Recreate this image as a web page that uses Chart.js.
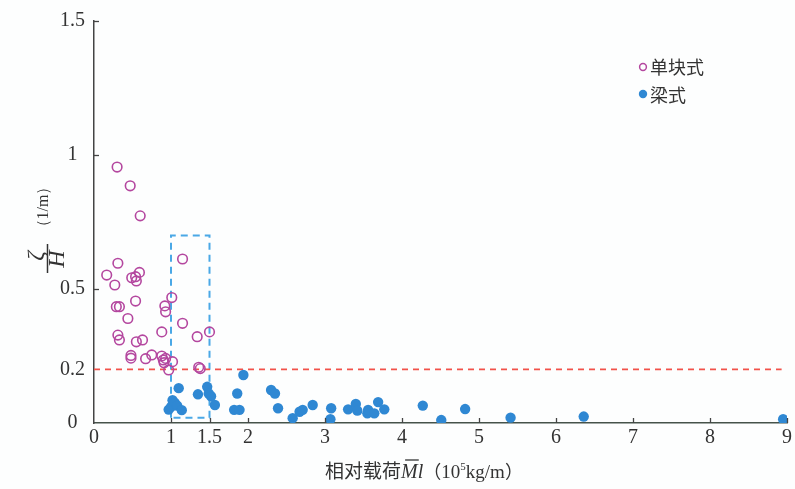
<!DOCTYPE html>
<html><head><meta charset="utf-8">
<script src="https://cdn.jsdelivr.net/npm/chart.js@4.4.1/dist/chart.umd.min.js"></script>
<style>html,body{margin:0;padding:0;background:#fdfefe;}#wrap{width:795px;height:489px;position:relative}</style>
</head><body><div id="wrap"><canvas id="c" width="795" height="489"></canvas></div>
<script>
// ---- data ----
const xTicks = [0, 1, 1.5, 2, 3, 4, 5, 6, 7, 8, 9];
const yTicks = [0, 0.2, 0.5, 1, 1.5];
const seriesNames = ['单块式', '梁式'];

const singleBlockX = [0.30, 0.47, 0.60, 1.15, 0.31, 0.165, 0.27, 0.49, 0.54, 0.55, 0.59,
  1.01, 0.29, 0.33, 0.54, 0.92, 0.93, 0.44, 1.15, 0.88, 1.50, 1.34, 0.31, 0.33, 0.55, 0.63,
  0.48, 0.48, 0.67, 0.75, 0.88, 0.90, 0.93, 0.91, 1.02, 0.97, 1.36, 1.38];
const singleBlockY = [0.955, 0.885, 0.773, 0.612, 0.596, 0.552, 0.515, 0.542, 0.546, 0.530, 0.562,
  0.468, 0.434, 0.434, 0.455, 0.437, 0.415, 0.390, 0.372, 0.340, 0.340, 0.322, 0.328, 0.310, 0.303, 0.310,
  0.252, 0.242, 0.240, 0.254, 0.250, 0.235, 0.241, 0.225, 0.229, 0.198, 0.208, 0.203];

const beamX = [0.97, 1.00, 1.02, 1.05, 1.08, 1.14, 1.10, 1.35, 1.47, 1.49, 1.52, 1.57,
  1.86, 1.82, 1.89, 1.94, 2.30, 2.35, 2.39, 2.58, 2.67, 2.71, 2.84, 3.08, 3.07,
  3.30, 3.40, 3.42, 3.55, 3.56, 3.64, 3.69, 3.77, 4.27, 4.51, 4.82, 5.41, 6.36, 8.95];
const beamY = [0.050, 0.060, 0.085, 0.075, 0.065, 0.048, 0.130, 0.107, 0.135, 0.110, 0.100, 0.067,
  0.110, 0.049, 0.049, 0.179, 0.123, 0.110, 0.055, 0.018, 0.042, 0.049, 0.067, 0.055, 0.014,
  0.051, 0.071, 0.046, 0.036, 0.049, 0.036, 0.078, 0.051, 0.065, 0.011, 0.052, 0.020, 0.024, 0.014];

const limitLineX = [0, 8.93];
const limitLineY = [0.2, 0.2];
const boxX = [1.0, 1.0, 1.5, 1.5, 1.0];
const boxY = [0.02, 0.70, 0.70, 0.02, 0.02];

// ---- styling ----
const MAGENTA = '#b4479f';
const BLUE = '#2f88d3';
const SERIF = '"Liberation Serif", "DejaVu Serif", serif';
const CJK = '"Noto Sans CJK SC", sans-serif';
const TXT = '#333333';

const zip = (xs, ys) => xs.map((x, i) => ({x: x, y: ys[i]}));

const decor = {
  id: 'decor',
  afterDraw(chart) {
    const ctx = chart.ctx;
    const xs = chart.scales.x, ys = chart.scales.y;
    const area = chart.chartArea;
    ctx.save();
    // inward tick marks
    ctx.strokeStyle = '#444';
    ctx.lineWidth = 1.3;
    xTicks.forEach(v => {
      if (v === 0) return;
      const px = Math.round(xs.getPixelForValue(v)) + 0.5;
      ctx.beginPath(); ctx.moveTo(px, area.bottom); ctx.lineTo(px, area.bottom - 5); ctx.stroke();
    });
    [0.5, 1, 1.5].forEach(v => {
      const py = Math.round(ys.getPixelForValue(v)) + 0.5;
      ctx.beginPath(); ctx.moveTo(area.left, py); ctx.lineTo(area.left + 5, py); ctx.stroke();
    });

    // x axis title
    const segs = [
      {t: '相对载荷', f: '19px ' + CJK, dy: 0},
      {t: 'M', f: 'italic 20px ' + SERIF, dy: 0, bar: true},
      {t: 'l', f: 'italic 20px ' + SERIF, dy: 0},
      {t: '（', f: '18px ' + CJK, dy: 0},
      {t: '10', f: '19px ' + SERIF, dy: 0},
      {t: '5', f: '11px ' + SERIF, dy: -8},
      {t: 'kg/m', f: '19px ' + SERIF, dy: 0},
      {t: '）', f: '18px ' + CJK, dy: 0}
    ];
    let total = 0;
    segs.forEach(s => { ctx.font = s.f; s.w = ctx.measureText(s.t).width; total += s.w; });
    let cx = 424 - total / 2;
    const base = 478;
    ctx.fillStyle = TXT;
    ctx.textBaseline = 'alphabetic';
    ctx.textAlign = 'left';
    segs.forEach(s => {
      ctx.font = s.f;
      ctx.fillText(s.t, cx, base + s.dy);
      if (s.bar) {
        ctx.strokeStyle = TXT; ctx.lineWidth = 1.3;
        ctx.beginPath(); ctx.moveTo(cx + 4, base - 18); ctx.lineTo(cx + s.w + 1, base - 18); ctx.stroke();
      }
      cx += s.w;
    });

    // y axis title (rotated)
    ctx.save();
    ctx.rotate(-Math.PI / 2);
    ctx.fillStyle = TXT;
    ctx.textAlign = 'center';
    ctx.textBaseline = 'middle';
    ctx.font = 'italic 24px ' + SERIF;
    ctx.fillText('ζ', -256, 37);
    ctx.fillText('H', -259, 58);
    ctx.strokeStyle = TXT; ctx.lineWidth = 1.5;
    ctx.beginPath(); ctx.moveTo(-273, 47.5); ctx.lineTo(-244, 47.5); ctx.stroke();
    ctx.font = '16px ' + SERIF;
    ctx.fillText('（1/m）', -207, 44);
    ctx.restore();

    // legend
    ctx.font = '18px ' + CJK;
    ctx.textAlign = 'left';
    ctx.textBaseline = 'middle';
    ctx.fillStyle = TXT;
    ctx.strokeStyle = MAGENTA; ctx.lineWidth = 1.5;
    ctx.beginPath(); ctx.arc(643, 67, 3.4, 0, Math.PI * 2); ctx.stroke();
    ctx.fillText(seriesNames[0], 650, 67);
    ctx.fillStyle = BLUE;
    ctx.beginPath(); ctx.arc(643, 94, 4.2, 0, Math.PI * 2); ctx.fill();
    ctx.fillStyle = TXT;
    ctx.fillText(seriesNames[1], 650, 95);
    ctx.restore();
  }
};

new Chart(document.getElementById('c'), {
  type: 'scatter',
  data: {
    datasets: [
      {label: seriesNames[0], data: zip(singleBlockX, singleBlockY), showLine: false,
       pointStyle: 'circle', pointRadius: 4.8, pointHoverRadius: 4.8,
       borderColor: MAGENTA, backgroundColor: 'rgba(0,0,0,0)', pointBorderWidth: 1.6},
      {label: seriesNames[1], data: zip(beamX, beamY), showLine: false,
       pointStyle: 'circle', pointRadius: 5.2, pointHoverRadius: 5.2,
       borderColor: BLUE, backgroundColor: BLUE, pointBorderWidth: 0},
      {label: 'limit', data: zip(limitLineX, limitLineY), showLine: true, pointRadius: 0,
       borderColor: '#f2524a', borderWidth: 1.8, borderDash: [6, 5], fill: false},
      {label: 'box', data: zip(boxX, boxY), showLine: true, pointRadius: 0,
       borderColor: '#4aa8e6', borderWidth: 2, borderDash: [7, 5], fill: false, tension: 0}
    ]
  },
  options: {
    responsive: false,
    devicePixelRatio: 1,
    animation: false,
    events: [],
    layout: {padding: {left: 0, right: 7, top: 20, bottom: 0}},
    plugins: {legend: {display: false}, tooltip: {enabled: false}},
    scales: {
      x: {
        type: 'linear', min: 0, max: 9,
        afterBuildTicks: s => { s.ticks = xTicks.map(v => ({value: v})); },
        afterFit: s => { s.height = 66; },
        ticks: {autoSkip: false, maxRotation: 0, padding: 3, color: TXT,
                font: {family: SERIF, size: 20}, callback: v => String(v)},
        grid: {display: false, drawTicks: false},
        border: {display: true, color: '#46534a', width: 1.6}
      },
      y: {
        type: 'linear', min: 0, max: 1.5,
        afterBuildTicks: s => { s.ticks = yTicks.map(v => ({value: v})); },
        afterFit: s => { s.width = 94; },
        ticks: {autoSkip: false, padding: 9, crossAlign: 'center', color: TXT,
                font: {family: SERIF, size: 20}, callback: v => String(v)},
        grid: {display: false, drawTicks: false},
        border: {display: true, color: '#444', width: 1.5}
      }
    }
  },
  plugins: [decor]
});
</script></body></html>
